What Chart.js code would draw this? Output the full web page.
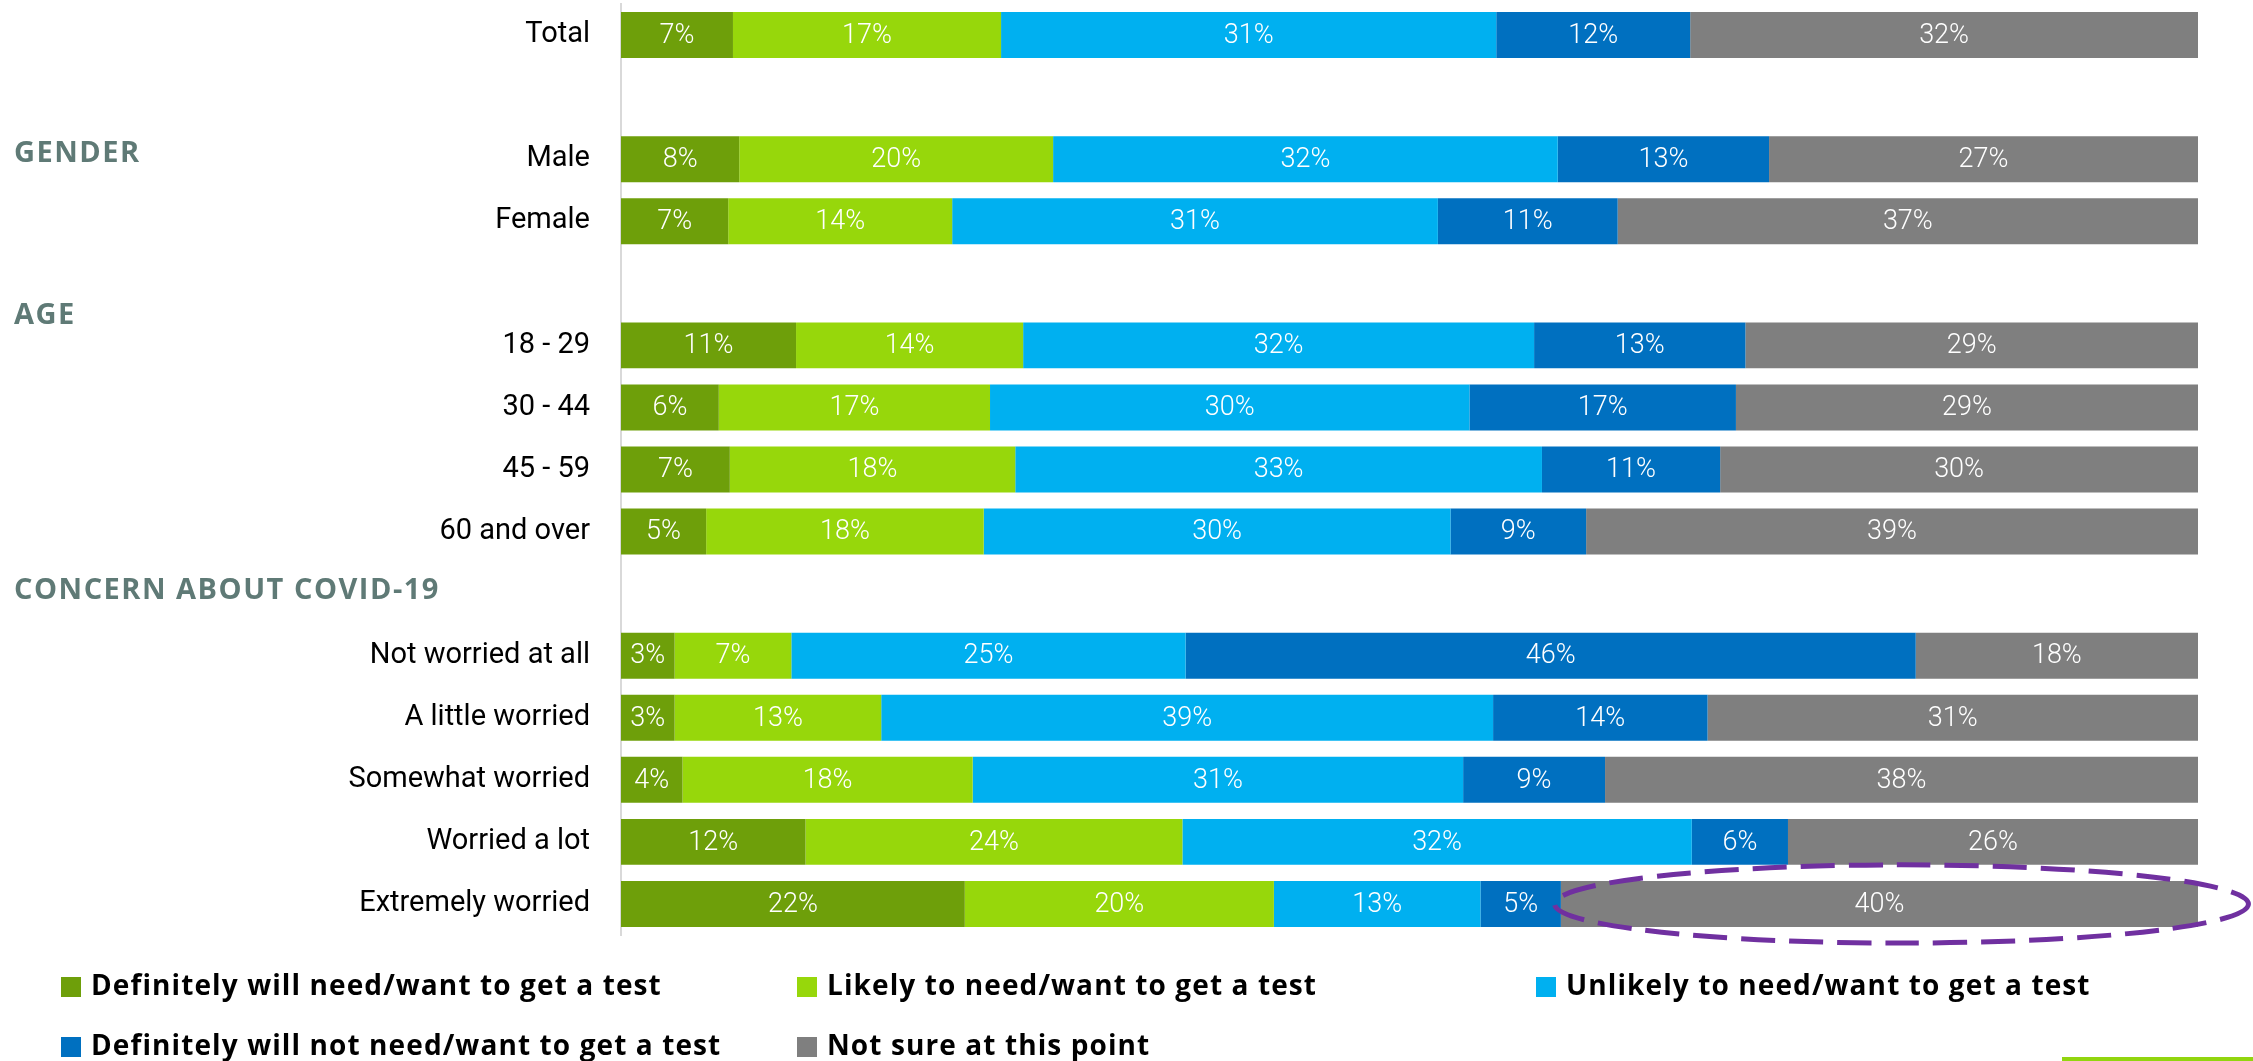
<!DOCTYPE html>
<html>
<head>
<meta charset="utf-8">
<script src="https://cdn.jsdelivr.net/npm/chart.js@4.4.1/dist/chart.umd.min.js"></script>
<style>
    html, body { margin: 0; padding: 0; background: #fff; }
    #wrap { width: 2253px; height: 1061px; position: relative; }
</style>
</head>
<body>
<div id="wrap"><canvas id="grafico" width="2253" height="1061"></canvas></div>
<script>
// categorias ('' = fila vacia entre grupos)
const categorias = ['Total', '', 'Male', 'Female', '', '18 - 29', '30 - 44', '45 - 59', '60 and over', '',
    'Not worried at all', 'A little worried', 'Somewhat worried', 'Worried a lot', 'Extremely worried'];

const series = [
    'Definitely will need/want to get a test',
    'Likely to need/want to get a test',
    'Unlikely to need/want to get a test',
    'Definitely will not need/want to get a test',
    'Not sure at this point'
];

const definitivamenteSi = [7.1, null, 7.5, 6.8, null, 11.1, 6.2, 6.9, 5.4, null, 3.4, 3.4, 3.9, 11.7, 21.8];
const probable = [17.0, null, 19.9, 14.2, null, 14.4, 17.2, 18.1, 17.6, null, 7.4, 13.1, 18.4, 23.9, 19.6];
const improbable = [31.4, null, 32.0, 30.8, null, 32.4, 30.4, 33.4, 29.6, null, 25.0, 38.8, 31.1, 32.3, 13.1];
const definitivamenteNo = [12.3, null, 13.4, 11.4, null, 13.4, 16.9, 11.3, 8.6, null, 46.3, 13.6, 9.0, 6.1, 5.1];
const noSeguro = [32.2, null, 27.2, 36.8, null, 28.7, 29.3, 30.3, 38.8, null, 17.9, 31.1, 37.6, 26.0, 40.4];

const encabezados = ['GENDER', 'AGE', 'CONCERN ABOUT COVID-19'];

const colores = ['#6E9F0A', '#97D70B', '#00B0F0', '#0070C0', '#7F7F7F'];

// etiquetas dentro de las barras
const etiquetasPlugin = {
    id: 'etiquetas',
    afterDatasetsDraw(chart) {
        const ctx = chart.ctx;
        ctx.save();
        ctx.font = '300 27px Roboto';
        ctx.fillStyle = '#fff';
        ctx.textAlign = 'center';
        ctx.textBaseline = 'middle';
        chart.data.datasets.forEach((ds, i) => {
            chart.getDatasetMeta(i).data.forEach((bar, j) => {
                const v = ds.data[j];
                if (v == null) return;
                const c = bar.getCenterPoint();
                ctx.fillText(Math.round(v) + '%', c.x, c.y + 1);
            });
        });
        ctx.restore();
    }
};

// encabezados de grupo, ovalo, leyenda y franja verde
const extrasPlugin = {
    id: 'extras',
    afterDraw(chart) {
        const ctx = chart.ctx;
        const y = chart.scales.y;
        const x = chart.scales.x;
        const paso = y.getPixelForValue(1) - y.getPixelForValue(0);

        ctx.save();
        ctx.font = 'bold 29px "Open Sans"';
        ctx.letterSpacing = '1.5px';
        ctx.fillStyle = '#5F7A76';
        ctx.textAlign = 'left';
        ctx.textBaseline = 'middle';
        const posiciones = [1.92, 4.52, 8.96];
        encabezados.forEach((t, i) => {
            ctx.fillText(t, 14, y.getPixelForValue(0) + posiciones[i] * paso);
        });
        ctx.restore();

        // ovalo punteado sobre "Not sure" de Extremely worried
        const x1 = x.getPixelForValue(59.2);
        const x2 = x.getPixelForValue(103.2);
        const cy = y.getPixelForValue(14);
        ctx.save();
        ctx.strokeStyle = '#7030A0';
        ctx.lineWidth = 5;
        ctx.setLineDash([34, 14]);
        ctx.beginPath();
        ctx.ellipse((x1 + x2) / 2, cy, (x2 - x1) / 2, paso * 0.63, 0, 0, Math.PI * 2);
        ctx.stroke();
        ctx.restore();

        // leyenda
        const lugares = [[61, 987], [797, 987], [1536, 987], [61, 1047], [797, 1047]];
        ctx.save();
        ctx.font = 'bold 28px "Open Sans"';
        ctx.letterSpacing = '1.1px';
        ctx.textBaseline = 'middle';
        series.forEach((s, i) => {
            const [lx, ly] = lugares[i];
            ctx.fillStyle = colores[i];
            ctx.fillRect(lx, ly - 10, 20, 20);
            ctx.fillStyle = '#000';
            ctx.fillText(s, lx + 30, ly);
        });
        ctx.restore();

        ctx.fillStyle = '#92D50F';
        ctx.fillRect(2062, 1057, 191, 4);
    }
};

const datos = [definitivamenteSi, probable, improbable, definitivamenteNo, noSeguro];

new Chart(document.getElementById('grafico'), {
    type: 'bar',
    data: {
        labels: categorias,
        datasets: series.map((s, i) => ({
            label: s,
            data: datos[i],
            backgroundColor: colores[i],
            borderWidth: 0,
            barPercentage: 0.74,
            categoryPercentage: 1
        }))
    },
    options: {
        indexAxis: 'y',
        responsive: false,
        animation: false,
        layout: {
            padding: { left: 0, right: 55, top: 4, bottom: 126 }
        },
        plugins: {
            legend: { display: false },
            tooltip: { enabled: false }
        },
        scales: {
            x: {
                stacked: true,
                display: false,
                min: 0,
                max: 100
            },
            y: {
                stacked: true,
                grid: { display: false, drawTicks: false },
                border: { display: true, color: '#D9D9D9', width: 2 },
                ticks: {
                    autoSkip: false,
                    padding: 31,
                    color: '#000',
                    font: { family: 'Roboto', size: 29 }
                },
                afterFit(scale) {
                    scale.width = 621;
                    scale.paddingTop = 0;
                    scale.paddingBottom = 0;
                }
            }
        }
    },
    plugins: [etiquetasPlugin, extrasPlugin]
});
</script>
</body>
</html>
